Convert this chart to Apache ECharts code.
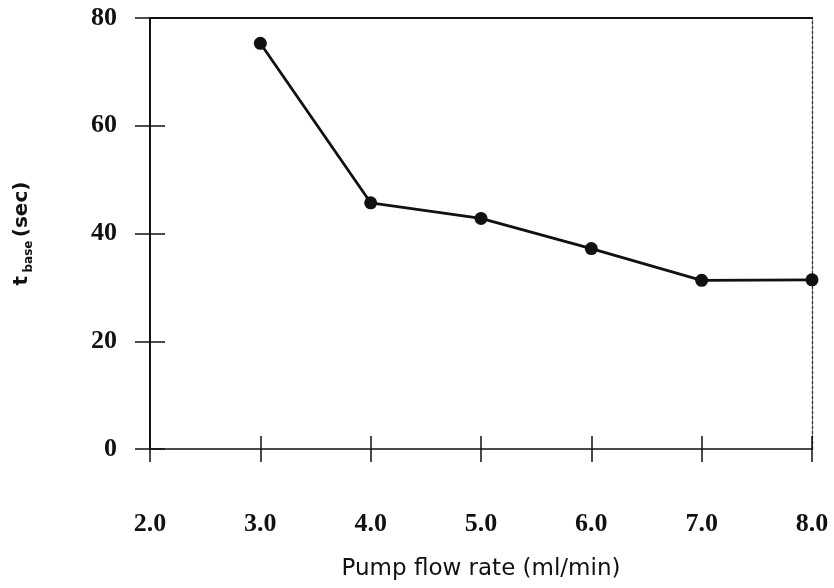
<!DOCTYPE html>
<html>
<head>
<meta charset="utf-8">
<script src="https://cdn.jsdelivr.net/npm/echarts@6/dist/echarts.min.js"></script>
<style>
html,body{margin:0;padding:0;background:#fff;}
#chart{width:834px;height:588px;}
</style>
</head>
<body>
<div id="chart"></div>
<script>
// Data
const flowRates = [3.0, 4.0, 5.0, 6.0, 7.0, 8.0];          // Pump flow rate (ml/min)
const tBase = [75.3, 45.7, 42.8, 37.2, 31.3, 31.4];        // t base (sec)
const xRange = [2, 8, 1];   // min, max, interval
const yRange = [0, 80, 20]; // min, max, interval
const xTitle = 'Pump flow rate (ml/min)';
const yTitleParts = ['t', 'base', '(sec)'];

const chart = echarts.init(document.getElementById('chart'), null, {renderer: 'canvas'});

const serifFont = '"Liberation Serif", "DejaVu Serif", serif';
const sansFont = '"DejaVu Sans", "Liberation Sans", sans-serif';
const ink = '#111';

const baseX = {
  type: 'value', min: xRange[0], max: xRange[1], interval: xRange[2],
  splitLine: {show: false}
};
const baseY = {
  type: 'value', min: yRange[0], max: yRange[1], interval: yRange[2],
  splitLine: {show: false}
};

const option = {
  backgroundColor: '#fff',
  animation: false,
  grid: {left: 150, right: 22, top: 18, bottom: 139, containLabel: false},
  xAxis: [
    Object.assign({}, baseX, {
      position: 'bottom',
      axisLine: {show: true, onZero: false, lineStyle: {color: ink, width: 1.6}},
      axisTick: {show: true, inside: false, length: 13, lineStyle: {color: ink, width: 1.5}},
      axisLabel: {
        show: true, margin: 62, color: ink, fontFamily: serifFont, fontSize: 26, fontWeight: 'bold',
        formatter: v => v.toFixed(1)
      },
      name: xTitle, nameLocation: 'middle', nameGap: 109,
      nameTextStyle: {color: ink, fontFamily: sansFont, fontSize: 23}
    }),
    Object.assign({}, baseX, {
      position: 'bottom',
      axisLine: {show: false, onZero: false},
      axisTick: {show: true, inside: true, length: 13, lineStyle: {color: ink, width: 1.5}},
      axisLabel: {show: false}
    }),
    Object.assign({}, baseX, {
      position: 'top',
      axisLine: {show: true, onZero: false, lineStyle: {color: ink, width: 2}},
      axisTick: {show: false},
      axisLabel: {show: false}
    })
  ],
  yAxis: [
    Object.assign({}, baseY, {
      position: 'left',
      axisLine: {show: true, onZero: false, lineStyle: {color: ink, width: 2}},
      axisTick: {show: true, inside: false, length: 15, lineStyle: {color: ink, width: 1.5}},
      axisLabel: {show: true, margin: 33, color: ink, fontFamily: serifFont, fontSize: 26, fontWeight: 'bold'},
      name: '{t|' + yTitleParts[0] + '} {sub|' + yTitleParts[1] + '} {u|' + yTitleParts[2] + '}',
      nameLocation: 'middle', nameGap: 115, nameRotate: 90,
      nameTextStyle: {
        color: ink,
        rich: {
          t: {fontFamily: sansFont, fontWeight: 'bold', fontSize: 20, color: ink, lineHeight: 26},
          sub: {fontFamily: sansFont, fontWeight: 'bold', fontSize: 12, color: ink, verticalAlign: 'bottom', lineHeight: 26, padding: [11, 0, 0, 0]},
          u: {fontFamily: sansFont, fontWeight: 'bold', fontSize: 20, color: ink, lineHeight: 26}
        }
      }
    }),
    Object.assign({}, baseY, {
      position: 'left',
      axisLine: {show: false, onZero: false},
      axisTick: {show: true, inside: true, length: 15, lineStyle: {color: ink, width: 1.5}},
      axisLabel: {show: false}
    }),
    Object.assign({}, baseY, {
      position: 'right',
      axisLine: {show: true, onZero: false, lineStyle: {color: '#333', width: 1.3, type: [3, 2]}},
      axisTick: {show: false},
      axisLabel: {show: false}
    })
  ],
  series: [{
    type: 'line',
    xAxisIndex: 0, yAxisIndex: 0,
    data: flowRates.map((x, i) => [x, tBase[i]]),
    symbol: 'circle', symbolSize: 13,
    itemStyle: {color: ink},
    lineStyle: {color: ink, width: 2.8},
    z: 5
  }]
};

chart.setOption(option);
</script>
</body>
</html>
